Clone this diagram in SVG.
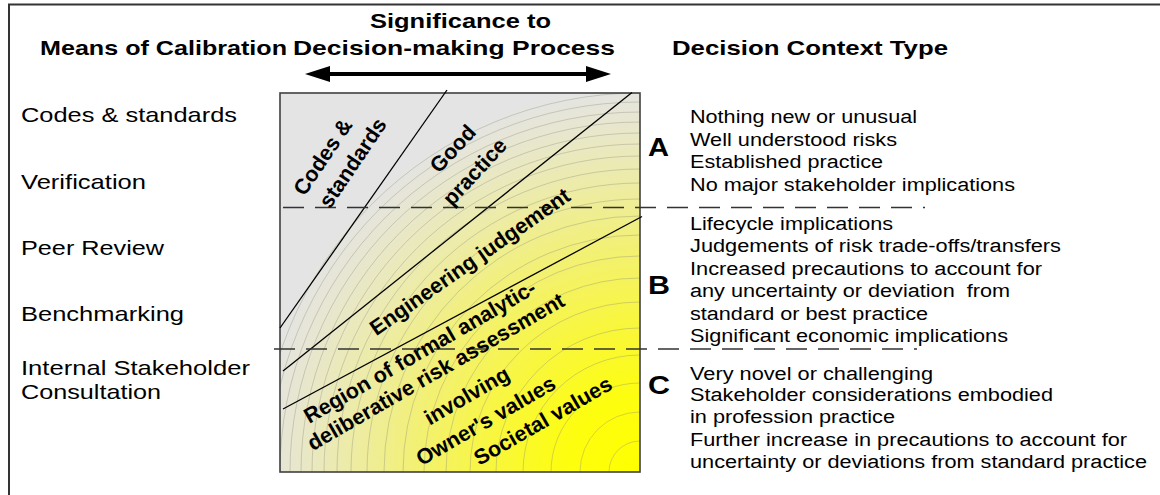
<svg xmlns="http://www.w3.org/2000/svg" width="1160" height="495" viewBox="0 0 1160 495">
<style>
.hd{font-family:"Liberation Sans",Arial,sans-serif;font-weight:bold;font-size:21px;fill:#000}
.lt{font-family:"Liberation Sans",Arial,sans-serif;font-size:21px;fill:#000}
.rt{font-family:"Liberation Sans",Arial,sans-serif;font-size:18px;fill:#000}
.ab{font-family:"Liberation Sans",Arial,sans-serif;font-weight:bold;font-size:26px;fill:#000}
.in{font-family:"Liberation Sans",Arial,sans-serif;font-weight:bold;font-size:21.5px;fill:#000;text-anchor:middle}
.dash{stroke:#333;stroke-width:1.3;stroke-dasharray:21 11;fill:none}
.div{stroke:#000;stroke-width:1.3;fill:none}
.arc{stroke:#8a8a7a;stroke-width:0.6;fill:none;stroke-opacity:0.6}
</style>
<defs>
<radialGradient id="yel" gradientUnits="userSpaceOnUse" cx="640" cy="472" r="385">
<stop offset="0" stop-color="#ffff00"/>
<stop offset="0.2" stop-color="#fdfd10"/>
<stop offset="0.4" stop-color="#f8f640"/>
<stop offset="0.6" stop-color="#f2f078"/>
<stop offset="0.78" stop-color="#ecebae"/>
<stop offset="0.92" stop-color="#e7e6d2"/>
<stop offset="1" stop-color="#e4e4e4"/>
</radialGradient>
<clipPath id="boxclip"><rect x="280" y="93" width="360" height="379"/></clipPath>
</defs>
<rect width="1160" height="495" fill="#fff"/>
<path d="M9,497 V4.5 H1162" fill="none" stroke="#333" stroke-width="2"/>

<g id="headers">
<text class="hd" x="40" y="55" textLength="247" lengthAdjust="spacingAndGlyphs">Means of Calibration</text>
<text class="hd" x="370" y="28" textLength="181" lengthAdjust="spacingAndGlyphs">Significance to</text>
<text class="hd" x="293" y="55" textLength="322" lengthAdjust="spacingAndGlyphs">Decision-making Process</text>
<text class="hd" x="672" y="55" textLength="276" lengthAdjust="spacingAndGlyphs">Decision Context Type</text>
</g>

<g id="arrow">
<line x1="325" y1="74" x2="591" y2="74" stroke="#000" stroke-width="4"/>
<polygon points="305,74 330,66 330,82" fill="#000"/>
<polygon points="611,74 586,66 586,82" fill="#000"/>
</g>

<g id="means">
<text class="lt" x="21" y="122" textLength="216" lengthAdjust="spacingAndGlyphs">Codes &amp; standards</text>
<text class="lt" x="21" y="188.5" textLength="125" lengthAdjust="spacingAndGlyphs">Verification</text>
<text class="lt" x="21" y="254.5" textLength="143" lengthAdjust="spacingAndGlyphs">Peer Review</text>
<text class="lt" x="21" y="321" textLength="163" lengthAdjust="spacingAndGlyphs">Benchmarking</text>
<text class="lt" x="21" y="374.5" textLength="229" lengthAdjust="spacingAndGlyphs">Internal Stakeholder</text>
<text class="lt" x="21" y="398.5" textLength="140" lengthAdjust="spacingAndGlyphs">Consultation</text>
</g>

<g id="chart">
<rect x="280" y="93" width="360" height="379" fill="url(#yel)"/>
<g clip-path="url(#boxclip)">
<circle class="arc" cx="640" cy="472" r="31"/>
<circle class="arc" cx="640" cy="472" r="60"/>
<circle class="arc" cx="640" cy="472" r="89"/>
<circle class="arc" cx="640" cy="472" r="117"/>
<circle class="arc" cx="640" cy="472" r="144"/>
<circle class="arc" cx="640" cy="472" r="170"/>
<circle class="arc" cx="640" cy="472" r="194"/>
<circle class="arc" cx="640" cy="472" r="216"/>
<circle class="arc" cx="640" cy="472" r="237"/>
<circle class="arc" cx="640" cy="472" r="256"/>
<circle class="arc" cx="640" cy="472" r="273"/>
<circle class="arc" cx="640" cy="472" r="289"/>
<circle class="arc" cx="640" cy="472" r="303"/>
<circle class="arc" cx="640" cy="472" r="316"/>
<circle class="arc" cx="640" cy="472" r="328"/>
<circle class="arc" cx="640" cy="472" r="339"/>
<circle class="arc" cx="640" cy="472" r="350"/>
<circle class="arc" cx="640" cy="472" r="360"/>
<circle class="arc" cx="640" cy="472" r="370"/>
<circle class="arc" cx="640" cy="472" r="379"/>
</g>
<rect x="280" y="93" width="360" height="379" fill="none" stroke="#404040" stroke-width="1.6"/>
</g>

<g id="dividers">
<line class="div" x1="447" y1="90" x2="280" y2="328"/>
<line class="div" x1="632" y1="92.5" x2="283" y2="371"/>
<line class="div" x1="642" y1="216.5" x2="283" y2="409"/>
<line class="dash" x1="283" y1="207.5" x2="925" y2="207.5"/>
<line class="dash" x1="274" y1="349" x2="917" y2="349"/>
</g>

<g id="regions">
<text class="in" transform="translate(323,157) rotate(-56)" y="7">Codes &amp;</text>
<text class="in" transform="translate(353,163) rotate(-56)" y="7">standards</text>
<text class="in" transform="translate(453,149) rotate(-47)" y="7">Good</text>
<text class="in" transform="translate(475,172) rotate(-47)" y="7">practice</text>
<text class="in" transform="translate(470,262) rotate(-35)" y="7">Engineering judgement</text>
<text class="in" transform="translate(420,352) rotate(-30)" y="7">Region of formal analytic-</text>
<text class="in" transform="translate(436,372) rotate(-30)" y="7">deliberative risk assessment</text>
<text class="in" transform="translate(467,396) rotate(-30)" y="7">involving</text>
<text class="in" transform="translate(486,421) rotate(-30)" y="7">Owner's values</text>
<text class="in" transform="translate(543,421) rotate(-30)" y="7">Societal values</text>
</g>

<g id="contextA">
<text class="ab" x="648" y="156" textLength="21" lengthAdjust="spacingAndGlyphs">A</text>
<text class="rt" x="690" y="123.3" textLength="227" lengthAdjust="spacingAndGlyphs">Nothing new or unusual</text>
<text class="rt" x="690" y="145.5" textLength="207" lengthAdjust="spacingAndGlyphs">Well understood risks</text>
<text class="rt" x="690" y="168" textLength="193" lengthAdjust="spacingAndGlyphs">Established practice</text>
<text class="rt" x="690" y="190.5" textLength="325" lengthAdjust="spacingAndGlyphs">No major stakeholder implications</text>
</g>
<g id="contextB">
<text class="ab" x="648" y="293.5" textLength="22" lengthAdjust="spacingAndGlyphs">B</text>
<text class="rt" x="690" y="229.5" textLength="203" lengthAdjust="spacingAndGlyphs">Lifecycle implications</text>
<text class="rt" x="690" y="252.3" textLength="371" lengthAdjust="spacingAndGlyphs">Judgements of risk trade-offs/transfers</text>
<text class="rt" x="690" y="275" textLength="352" lengthAdjust="spacingAndGlyphs">Increased precautions to account for</text>
<text class="rt" x="690" y="297" textLength="320" lengthAdjust="spacingAndGlyphs" xml:space="preserve">any uncertainty or deviation  from</text>
<text class="rt" x="690" y="319.5" textLength="238" lengthAdjust="spacingAndGlyphs">standard or best practice</text>
<text class="rt" x="690" y="342.3" textLength="318" lengthAdjust="spacingAndGlyphs">Significant economic implications</text>
</g>
<g id="contextC">
<text class="ab" x="648" y="394" textLength="22" lengthAdjust="spacingAndGlyphs">C</text>
<text class="rt" x="690" y="380" textLength="243" lengthAdjust="spacingAndGlyphs">Very novel or challenging</text>
<text class="rt" x="690" y="400.5" textLength="363" lengthAdjust="spacingAndGlyphs">Stakeholder considerations embodied</text>
<text class="rt" x="690" y="423" textLength="205" lengthAdjust="spacingAndGlyphs">in profession practice</text>
<text class="rt" x="690" y="445.7" textLength="437" lengthAdjust="spacingAndGlyphs">Further increase in precautions to account for</text>
<text class="rt" x="690" y="468.3" textLength="457" lengthAdjust="spacingAndGlyphs">uncertainty or deviations from standard practice</text>
</g>
</svg>
